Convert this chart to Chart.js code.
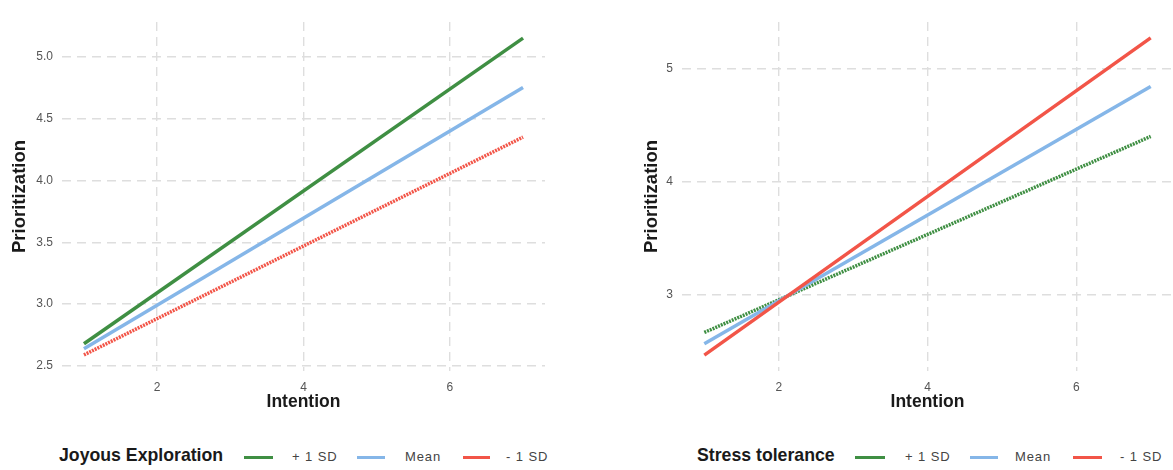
<!DOCTYPE html>
<html>
<head>
<meta charset="utf-8">
<script src="https://cdn.jsdelivr.net/npm/chart.js@4.4.1/dist/chart.umd.min.js"></script>
<style>
  html, body { margin:0; padding:0; background:#fff; width:1173px; height:470px; overflow:hidden; font-family:"Liberation Sans", Arial, sans-serif; }
  .cv { position:absolute; top:0; }
  .leg { position:absolute; white-space:nowrap; line-height:1; }
  .ttl { font-weight:bold; font-size:17.7px; color:#1a1a1a; top:447px; }
  .lab { font-size:13px; letter-spacing:0.9px; color:#444; top:450px; }
  .sw { position:absolute; height:3px; top:456px; }
</style>
</head>
<body>
<div class="cv" style="left:0;width:590px;height:420px;"><canvas id="c1"></canvas></div>
<div class="cv" style="left:630px;width:543px;height:420px;"><canvas id="c2"></canvas></div>

<div class="leg ttl" style="left:59px;">Joyous Exploration</div>
<div class="sw" style="left:244px;width:29px;background:#3F8F43;"></div>
<div class="leg lab" style="left:292px;">+ 1 SD</div>
<div class="sw" style="left:357px;width:28px;background:#85B6E8;"></div>
<div class="leg lab" style="left:405px;">Mean</div>
<div class="sw" style="left:463px;width:27px;background:#F25548;"></div>
<div class="leg lab" style="left:506px;">- 1 SD</div>

<div class="leg ttl" style="left:697px;">Stress tolerance</div>
<div class="sw" style="left:855px;width:30px;background:#3F8F43;"></div>
<div class="leg lab" style="left:905px;">+ 1 SD</div>
<div class="sw" style="left:970px;width:28px;background:#85B6E8;"></div>
<div class="leg lab" style="left:1015px;">Mean</div>
<div class="sw" style="left:1073px;width:29px;background:#F25548;"></div>
<div class="leg lab" style="left:1120px;">- 1 SD</div>

<script>
// ---- data ----
const intention = [1, 7];
const xTicks = [2, 4, 6];

const joyPlus = [2.68, 5.15];
const joyMean = [2.64, 4.75];
const joyMinus = [2.59, 4.35];
const joyYTicks = [2.5, 3.0, 3.5, 4.0, 4.5, 5.0];

const stressPlus = [2.67, 4.40];
const stressMean = [2.57, 4.84];
const stressMinus = [2.47, 5.27];
const stressYTicks = [3, 4, 5];

const GREEN = '#3F8F43', BLUE = '#85B6E8', RED = '#F25548';

function pts(ys) { return intention.map((x, i) => ({x: x, y: ys[i]})); }

function ds(label, ys, color, dotted) {
  return {
    label: label, data: pts(ys), borderColor: color, backgroundColor: color,
    borderWidth: 3.5, showLine: true, pointRadius: 0, borderDash: dotted ? [2, 1] : [],
    borderCapStyle: 'butt'
  };
}

function makeChart(id, datasets, yTicks, yMin, yMax, fmt, yWidth, yTitlePad, padRight) {
  const grid = { color: '#dedede', lineWidth: 1.4, drawTicks: false };
  return new Chart(document.getElementById(id), {
    type: 'scatter',
    data: { datasets: datasets },
    options: {
      responsive: true, maintainAspectRatio: false, animation: false,
      layout: { padding: { top: 22, right: padRight, left: 0, bottom: 0 } },
      plugins: { legend: { display: false }, tooltip: { enabled: false } },
      scales: {
        x: {
          type: 'linear', min: 0.7, max: 7.3,
          afterBuildTicks: s => { s.ticks = xTicks.map(v => ({value: v})); },
          afterFit: s => { s.height = 49; },
          grid: Object.assign({}, grid), border: { display: false, dash: [9, 6] },
          ticks: { color: '#555', font: { size: 12, family: 'Liberation Sans' }, padding: 9 },
          title: { display: true, text: 'Intention', color: '#1a1a1a',
                   font: { size: 17.5, weight: 'bold', family: 'Liberation Sans' }, padding: { top: 0, bottom: 7.5 } }
        },
        y: {
          type: 'linear', min: yMin, max: yMax,
          afterBuildTicks: s => { s.ticks = yTicks.map(v => ({value: v})); },
          afterFit: s => { s.width = yWidth; },
          grid: Object.assign({}, grid), border: { display: false, dash: [9, 6] },
          ticks: { color: '#555', font: { size: 12, family: 'Liberation Sans' }, padding: 9, callback: fmt },
          title: { display: true, text: 'Prioritization', color: '#1a1a1a',
                   font: { size: 18.5, weight: 'bold', family: 'Liberation Sans' }, padding: { top: yTitlePad, bottom: 0 } }
        }
      }
    }
  });
}

makeChart('c1', [
  ds('+ 1 SD', joyPlus, GREEN, false),
  ds('Mean', joyMean, BLUE, false),
  ds('- 1 SD', joyMinus, RED, true)
], joyYTicks, 2.46, 5.28, v => Number(v).toFixed(1), 62, 9, 45);

makeChart('c2', [
  ds('- 1 SD', stressMinus, RED, false),
  ds('Mean', stressMean, BLUE, false),
  ds('+ 1 SD', stressPlus, GREEN, true)
], stressYTicks, 2.33, 5.41, v => String(v), 52, 11, 0);
</script>
</body>
</html>
